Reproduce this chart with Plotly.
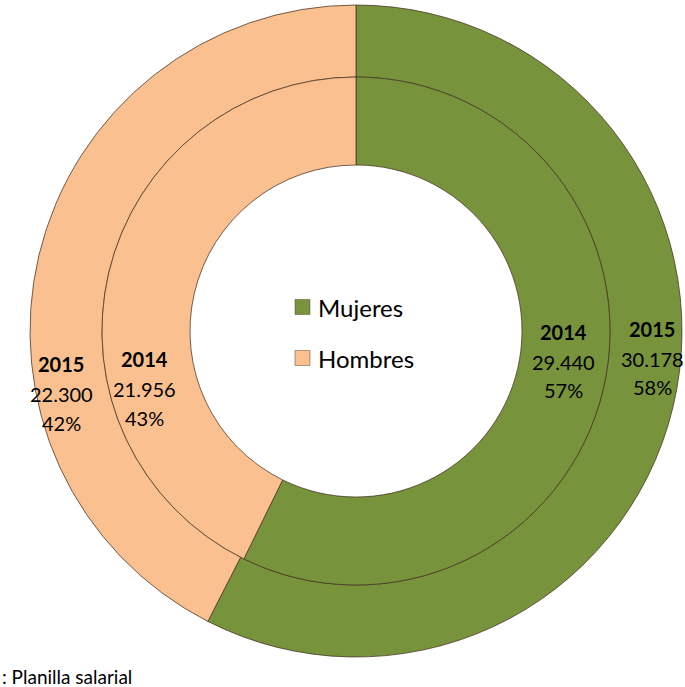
import plotly.graph_objects as go

labels = ["Mujeres", "Hombres"]
values_2015 = [30178, 22300]
values_2014 = [29440, 21956]
pct_2015 = ["58%", "42%"]
pct_2014 = ["57%", "43%"]
val_text_2015 = ["30.178", "22.300"]
val_text_2014 = ["29.440", "21.956"]
colors = ["#77933C", "#FAC090"]
source_text = ": Planilla salarial"

W, H = 685, 687
cx, cy = 356, 331  # pixel center (from top)
r_out, r_mid, r_hole = 326, 254, 166

def dom(r):
    return dict(x=[(cx - r) / W, (cx + r) / W],
                y=[1 - (cy + r) / H, 1 - (cy - r) / H])

line = dict(color="rgba(70,50,35,0.75)", width=1)

fig = go.Figure()
fig.add_trace(go.Pie(labels=labels, values=values_2015, hole=r_mid / r_out,
                     domain=dom(r_out), sort=False, direction="clockwise",
                     rotation=0, marker=dict(colors=colors, line=line),
                     textinfo="none", hoverinfo="label+value+percent",
                     showlegend=False))
fig.add_trace(go.Pie(labels=labels, values=values_2014, hole=r_hole / r_mid,
                     domain=dom(r_mid), sort=False, direction="clockwise",
                     rotation=0, marker=dict(colors=colors, line=line),
                     textinfo="none", hoverinfo="label+value+percent",
                     showlegend=False))

FONT = "Lato, 'Open Sans', sans-serif"
ann = []

def label_block(x, ys, year, val, pct):
    texts = ["<b>%s</b>" % year, val, pct]
    for t, y in zip(texts, ys):
        ann.append(dict(x=x / W, y=1 - y / H, xref="paper", yref="paper",
                        text=t, showarrow=False, xanchor="center", yanchor="middle",
                        font=dict(family=FONT, size=20, color="#000000")))

label_block(61, [364, 394, 423], "2015", val_text_2015[1], pct_2015[1])
label_block(144, [359, 389, 418], "2014", val_text_2014[1], pct_2014[1])
label_block(563, [332, 362, 390], "2014", val_text_2014[0], pct_2014[0])
label_block(652, [329, 359, 387], "2015", val_text_2015[0], pct_2015[0])

# center legend
shapes = []
leg_y = [307, 358]
for lab, col, y in zip(labels, colors, leg_y):
    shapes.append(dict(type="rect", xref="paper", yref="paper",
                       x0=295 / W, x1=310 / W, y0=1 - (y + 7.5) / H, y1=1 - (y - 7.5) / H,
                       fillcolor=col, line=dict(color="rgba(90,70,40,0.5)", width=1)))
    ann.append(dict(x=316 / W, y=1 - y / H, xref="paper", yref="paper", text=lab,
                    showarrow=False, xanchor="left", yanchor="middle",
                    font=dict(family=FONT, size=24, color="#000000")))

ann.append(dict(x=0, y=1 - 676 / H, xref="paper", yref="paper", text=source_text,
                showarrow=False, xanchor="left", yanchor="middle",
                font=dict(family=FONT, size=19, color="#000000")))

fig.update_layout(width=W, height=H, margin=dict(l=0, r=0, t=0, b=0),
                  paper_bgcolor="white", plot_bgcolor="white",
                  annotations=ann, shapes=shapes, showlegend=False)

fig.write_html("out.html", config={"displayModeBar": False},
               post_script="document.body.style.margin='0';document.body.style.overflow='hidden';")
